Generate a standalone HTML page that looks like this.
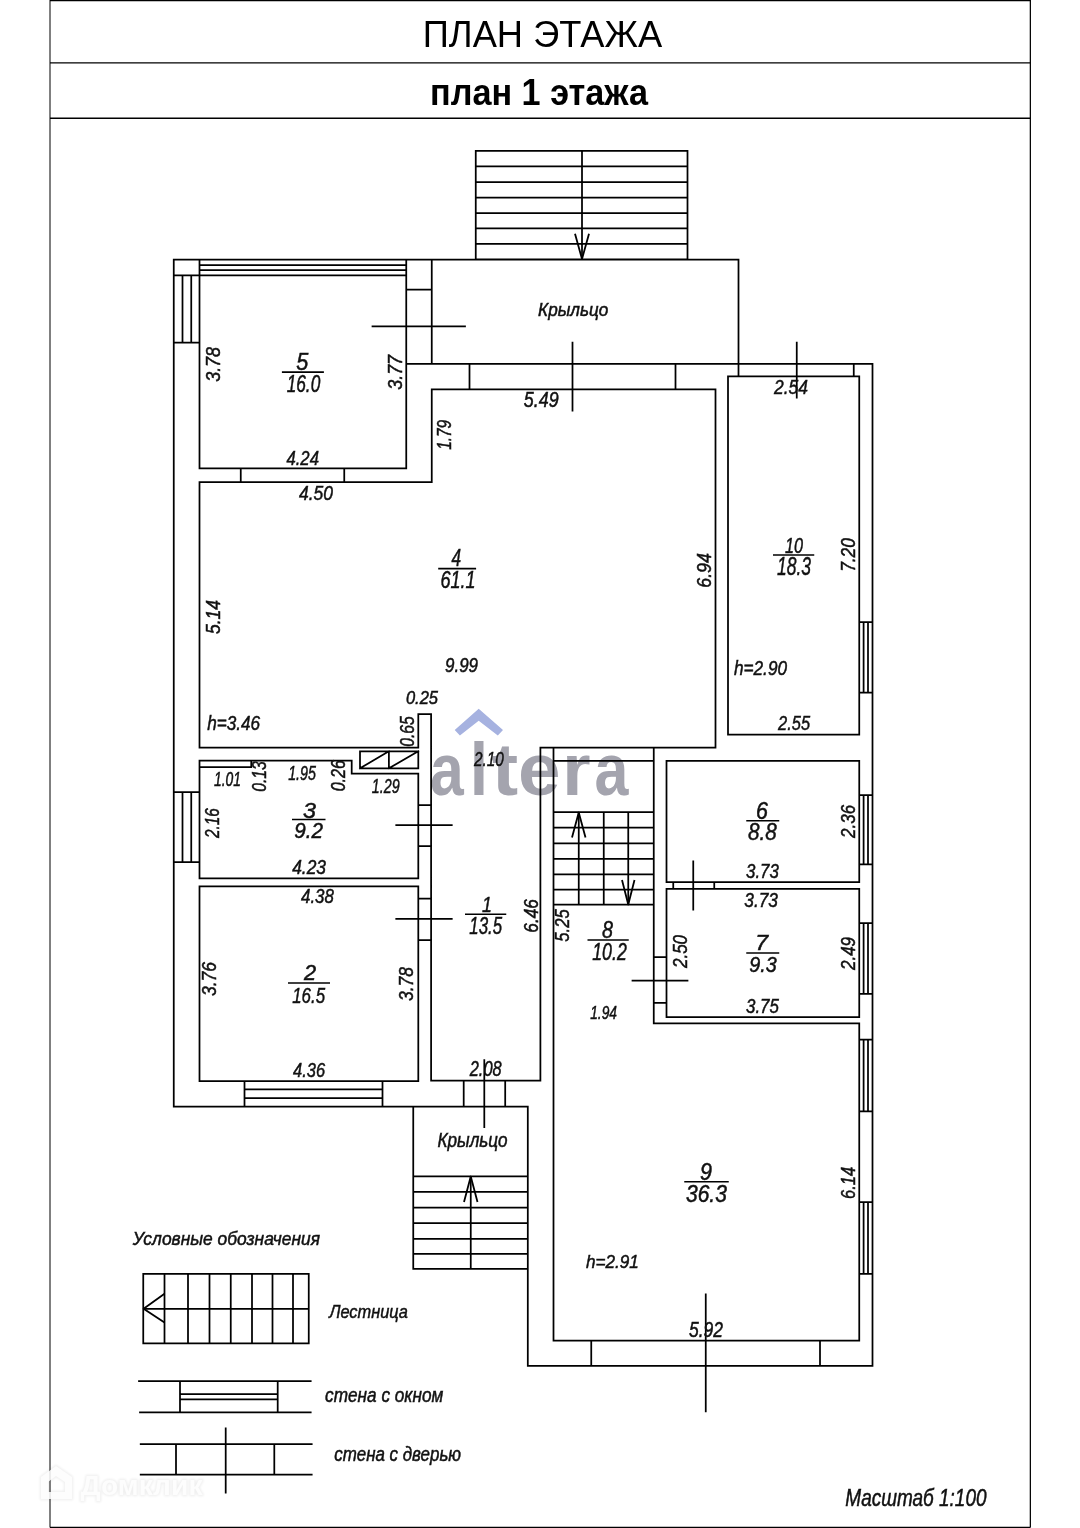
<!DOCTYPE html>
<html><head><meta charset="utf-8"><title>План этажа</title>
<style>html,body{margin:0;padding:0;background:#fff;width:1080px;height:1528px;overflow:hidden}
body{position:relative;font-family:"Liberation Sans",sans-serif}</style></head>
<body>
<svg width="1080" height="1528" viewBox="0 0 1080 1528" style="position:absolute;left:0;top:0;will-change:transform">
<text transform="translate(429.92 795.2) scale(0.819 1)" font-family="Liberation Sans" font-weight="bold" font-size="74" fill="#a4a4ae">a</text><text transform="translate(469.70 795.2) scale(0.895 1)" font-family="Liberation Sans" font-weight="bold" font-size="74" fill="#a4a4ae">l</text><text transform="translate(491.91 795.2) scale(1.061 1)" font-family="Liberation Sans" font-weight="bold" font-size="74" fill="#a4a4ae">t</text><text transform="translate(517.91 795.2) scale(1.034 1)" font-family="Liberation Sans" font-weight="bold" font-size="74" fill="#a4a4ae">e</text><text transform="translate(562.15 795.2) scale(0.982 1)" font-family="Liberation Sans" font-weight="bold" font-size="74" fill="#a4a4ae">r</text><text transform="translate(594.41 795.2) scale(0.824 1)" font-family="Liberation Sans" font-weight="bold" font-size="74" fill="#a4a4ae">a</text><polygon points="478.7,708.75 503,729.9 497.8,735.6 478.7,720.7 459.9,735.6 454.7,730.1" fill="#a6b2e0"/>
<path d="M475.75 150.75L687.5 150.75M687.5 150.75L687.5 259.25M687.5 259.25L475.75 259.25M475.75 259.25L475.75 150.75M475.75 166.25L687.5 166.25M475.75 182L687.5 182M475.75 197.5L687.5 197.5M475.75 213L687.5 213M475.75 228.25L687.5 228.25M475.75 243.75L687.5 243.75M582 150.75L582 259.25M173.75 259.5L173.75 1106.5M173.75 259.5L738.5 259.5M173.75 275.3L406.25 275.3M199.5 265L406.25 265M199.5 270L406.25 270M199.5 259.5L199.5 468.25M182.5 275.3L182.5 342.5M191.25 275.3L191.25 342.5M173.75 342.5L199.5 342.5M406.25 259.5L406.25 468.25M199.5 468.25L406.25 468.25M240.75 468.25L240.75 482M344.25 468.25L344.25 482M199.5 482L431.75 482M199.5 482L199.5 747.5M431.75 259.5L431.75 363.75M406.25 289.5L431.75 289.5M406.25 363.75L872.5 363.75M738.5 259.5L738.5 376.25M431.75 389.25L715.5 389.25M431.75 389.25L431.75 482M469.5 363.75L469.5 389.25M675.5 363.75L675.5 389.25M715.5 389.25L715.5 747.5M853.75 363.75L853.75 376.25M728 376.25L859.25 376.25M859.25 376.25L859.25 734.5M859.25 734.5L728 734.5M728 734.5L728 376.25M872.5 363.75L872.5 1365.75M199.5 747.5L418.3 747.5M418.3 714.1L418.3 747.5M418.3 714.1L431.1 714.1M431.1 714.1L431.1 1080.7M360 751.3L418.3 751.3M418.3 751.3L418.3 768.3M418.3 768.3L360 768.3M360 768.3L360 751.3M388.9 751.3L388.9 768.3M360 768.3L388.9 751.3M388.9 768.3L418.3 751.3M199.5 760.6L351.7 760.6M351.7 760.6L351.7 773.6M351.7 773.6L418.3 773.6M418.3 773.6L418.3 878.25M199.5 878.25L418.3 878.25M199.5 760.6L199.5 878.25M199.5 767L251.25 767M251.25 760.6L251.25 767M173.75 792L199.5 792M173.75 862L199.5 862M182.5 792L182.5 862M191.25 792L191.25 862M199.5 886.25L418.3 886.25M418.3 886.25L418.3 1081M418.3 1081L199.5 1081M199.5 1081L199.5 886.25M418.3 805L431.1 805M418.3 846L431.1 846M418.3 898.5L431.1 898.5M418.3 940L431.1 940M244.5 1081L244.5 1106.5M382.5 1081L382.5 1106.5M244.5 1089.25L382.5 1089.25M244.5 1098L382.5 1098M173.75 1106.5L527.8 1106.5M540.4 747.5L540.4 1080.7M431.1 1080.7L540.4 1080.7M463.7 1080.7L463.7 1106.5M505.2 1080.7L505.2 1106.5M540.4 747.5L715.5 747.5M553.5 747.5L553.5 1340.5M553.5 760.75L653.75 760.75M553.5 812L653.75 812M553.5 827.5L653.75 827.5M553.5 843.25L653.75 843.25M553.5 858.75L653.75 858.75M553.5 874.25L653.75 874.25M553.5 889.5L653.75 889.5M553.5 904.5L653.75 904.5M578.75 812L578.75 904.5M603.75 812L603.75 904.5M628.25 812L628.25 904.5M653.75 747.5L653.75 1023.25M666.5 760.75L859.25 760.75M859.25 760.75L859.25 882M859.25 882L666.5 882M666.5 882L666.5 760.75M666.5 888.75L859.25 888.75M859.25 888.75L859.25 1017.2M859.25 1017.2L666.5 1017.2M666.5 1017.2L666.5 888.75M673.25 882L673.25 888.75M714.25 882L714.25 888.75M653.75 957L666.5 957M653.75 1002.8L666.5 1002.8M653.75 1023.25L859.25 1023.25M859.25 1023.25L859.25 1340.5M553.5 1340.5L859.25 1340.5M527.8 1106.5L527.8 1365.75M527.8 1365.75L872.5 1365.75M591.25 1340.5L591.25 1365.75M820 1340.5L820 1365.75M859.25 622L872.5 622M859.25 692.5L872.5 692.5M863.6 622L863.6 692.5M868 622L868 692.5M859.25 795L872.5 795M859.25 864.25L872.5 864.25M863.6 795L863.6 864.25M868 795L868 864.25M859.25 923L872.5 923M859.25 993.75L872.5 993.75M863.6 923L863.6 993.75M868 923L868 993.75M859.25 1039.5L872.5 1039.5M859.25 1111.25L872.5 1111.25M863.6 1039.5L863.6 1111.25M868 1039.5L868 1111.25M859.25 1202L872.5 1202M859.25 1273.75L872.5 1273.75M863.6 1202L863.6 1273.75M868 1202L868 1273.75M413.25 1106.5L413.25 1268.75M413.25 1176.25L527.8 1176.25M413.25 1191.75L527.8 1191.75M413.25 1207.5L527.8 1207.5M413.25 1223L527.8 1223M413.25 1238.75L527.8 1238.75M413.25 1253.75L527.8 1253.75M413.25 1268.75L527.8 1268.75M470.75 1176.25L470.75 1268.75M372.5 326.25L465 326.25M572.5 342.5L572.5 410.5M796.75 342.5L796.75 397.5M396.25 825L451.75 825M396.25 918.75L451.75 918.75M693.25 861.25L693.25 909.5M632.5 980.5L687.5 980.5M484.3 1060L484.3 1127M705.75 1294.25L705.75 1411.25M143.25 1273.75L308.75 1273.75M308.75 1273.75L308.75 1343.25M308.75 1343.25L143.25 1343.25M143.25 1343.25L143.25 1273.75M143.25 1308.75L308.75 1308.75M164.5 1273.75L164.5 1343.25M188 1273.75L188 1343.25M209.5 1273.75L209.5 1343.25M230.75 1273.75L230.75 1343.25M252 1273.75L252 1343.25M272.5 1273.75L272.5 1343.25M293 1273.75L293 1343.25M139 1381.2L310.7 1381.2M140 1412.3L310.7 1412.3M180 1381.2L180 1412.3M277.7 1381.2L277.7 1412.3M180 1394L277.7 1394M180 1399.3L277.7 1399.3M140.7 1444L311.7 1444M140.7 1474.7L311.7 1474.7M176 1444L176 1474.7M274.3 1444L274.3 1474.7M225.7 1428.3L225.7 1492.5" stroke="#000" stroke-width="1.75" fill="none" stroke-linecap="square"/>
<path d="M50 0L50 1527.5" stroke="#000" stroke-width="1.0" fill="none"/>
<path d="M1030.35 0L1030.35 1527.5" stroke="#000" stroke-width="1.25" fill="none"/>
<path d="M50 0.5L1030.35 0.5" stroke="#000" stroke-width="1.3" fill="none"/>
<path d="M50 1527.5L1030.35 1527.5" stroke="#000" stroke-width="1.3" fill="none"/>
<path d="M50 62.8L1030.35 62.8" stroke="#000" stroke-width="1.35" fill="none"/>
<path d="M50 118.2L1030.35 118.2" stroke="#000" stroke-width="1.5" fill="none"/>
<path d="M281.9 372.2L323.9 372.2" stroke="#000" stroke-width="1.7" fill="none"/>
<path d="M438.2 568.6L476.1 568.6" stroke="#000" stroke-width="1.7" fill="none"/>
<path d="M773 555L814.25 555" stroke="#000" stroke-width="1.7" fill="none"/>
<path d="M292 819.5L325.5 819.5" stroke="#000" stroke-width="1.7" fill="none"/>
<path d="M288 983L330 983" stroke="#000" stroke-width="1.7" fill="none"/>
<path d="M465 914.25L506.25 914.25" stroke="#000" stroke-width="1.7" fill="none"/>
<path d="M587.5 940L628.75 940" stroke="#000" stroke-width="1.7" fill="none"/>
<path d="M746.25 820.75L779.25 820.75" stroke="#000" stroke-width="1.7" fill="none"/>
<path d="M746.25 953L779.25 953" stroke="#000" stroke-width="1.7" fill="none"/>
<path d="M684.25 1181.75L728.75 1181.75" stroke="#000" stroke-width="1.7" fill="none"/>
<polyline points="575,233.75 582,259 589,233.75" fill="none" stroke="#000" stroke-width="1.8" stroke-linejoin="round"/>
<polyline points="572,837.5 578.75,812.5 585.5,837.5" fill="none" stroke="#000" stroke-width="1.8" stroke-linejoin="round"/>
<polyline points="622,880 628.25,904.5 634.5,880" fill="none" stroke="#000" stroke-width="1.8" stroke-linejoin="round"/>
<polyline points="464,1202 470.75,1176.5 477.5,1202" fill="none" stroke="#000" stroke-width="1.8" stroke-linejoin="round"/>
<polyline points="164.5,1293.75 143.6,1308.75 164.5,1322.5" fill="none" stroke="#000" stroke-width="1.8" stroke-linejoin="round"/>
<defs><filter id="bl" x="-20%" y="-20%" width="140%" height="140%"><feGaussianBlur stdDeviation="1.2"/></filter></defs><g opacity="0.06" filter="url(#bl)" fill="#000" stroke="#000" stroke-width="2.5" stroke-linejoin="round"><text x="80.5" y="1495.3" font-family="Liberation Sans" font-weight="bold" font-size="27" textLength="122" lengthAdjust="spacingAndGlyphs">Домклик</text><path d="M41 1477 L56 1466 L72 1477 L72 1499 L41 1499 Z M48 1482 L56 1476 L65 1482 L65 1492 L48 1492 Z" fill-rule="evenodd"/></g><g fill="#fff" opacity="0.85"><text x="80.5" y="1495.3" font-family="Liberation Sans" font-weight="bold" font-size="27" textLength="122" lengthAdjust="spacingAndGlyphs">Домклик</text><path d="M41 1477 L56 1466 L72 1477 L72 1499 L41 1499 Z M48 1482 L56 1476 L65 1482 L65 1492 L48 1492 Z" fill-rule="evenodd"/></g>
<text x="296.37" y="369.56" font-size="23.35" textLength="12.05" lengthAdjust="spacingAndGlyphs" font-family="Liberation Sans" font-style="italic" fill="#111" stroke="#111" stroke-width="0.5">5</text>
<text x="286.63" y="391.56" font-size="23.68" textLength="33.63" lengthAdjust="spacingAndGlyphs" font-family="Liberation Sans" font-style="italic" fill="#111" stroke="#111" stroke-width="0.5">16.0</text>
<text x="286.43" y="465.12" font-size="21.10" textLength="32.52" lengthAdjust="spacingAndGlyphs" font-family="Liberation Sans" font-style="italic" fill="#111" stroke="#111" stroke-width="0.5">4.24</text>
<text x="298.95" y="500.22" font-size="20.95" textLength="34.05" lengthAdjust="spacingAndGlyphs" font-family="Liberation Sans" font-style="italic" fill="#111" stroke="#111" stroke-width="0.5">4.50</text>
<text x="523.84" y="406.66" font-size="21.21" textLength="34.79" lengthAdjust="spacingAndGlyphs" font-family="Liberation Sans" font-style="italic" fill="#111" stroke="#111" stroke-width="0.5">5.49</text>
<text x="451.58" y="566.00" font-size="23.13" textLength="9.58" lengthAdjust="spacingAndGlyphs" font-family="Liberation Sans" font-style="italic" fill="#111" stroke="#111" stroke-width="0.5">4</text>
<text x="440.47" y="588.34" font-size="24.14" textLength="35.22" lengthAdjust="spacingAndGlyphs" font-family="Liberation Sans" font-style="italic" fill="#111" stroke="#111" stroke-width="0.5">61.1</text>
<text x="445.05" y="672.22" font-size="19.55" textLength="33.00" lengthAdjust="spacingAndGlyphs" font-family="Liberation Sans" font-style="italic" fill="#111" stroke="#111" stroke-width="0.5">9.99</text>
<text x="405.89" y="704.44" font-size="18.67" textLength="32.16" lengthAdjust="spacingAndGlyphs" font-family="Liberation Sans" font-style="italic" fill="#111" stroke="#111" stroke-width="0.5">0.25</text>
<text x="773.95" y="394.00" font-size="20.95" textLength="34.00" lengthAdjust="spacingAndGlyphs" font-family="Liberation Sans" font-style="italic" fill="#111" stroke="#111" stroke-width="0.5">2.54</text>
<text x="785.00" y="553.00" font-size="22.61" textLength="18.00" lengthAdjust="spacingAndGlyphs" font-family="Liberation Sans" font-style="italic" fill="#111" stroke="#111" stroke-width="0.5">10</text>
<text x="777.00" y="575.10" font-size="26.50" textLength="34.05" lengthAdjust="spacingAndGlyphs" font-family="Liberation Sans" font-style="italic" fill="#111" stroke="#111" stroke-width="0.5">18.3</text>
<text x="733.95" y="675.22" font-size="20.07" textLength="53.10" lengthAdjust="spacingAndGlyphs" font-family="Liberation Sans" font-style="italic" fill="#111" stroke="#111" stroke-width="0.5">h=2.90</text>
<text x="778.11" y="730.22" font-size="20.95" textLength="31.94" lengthAdjust="spacingAndGlyphs" font-family="Liberation Sans" font-style="italic" fill="#111" stroke="#111" stroke-width="0.5">2.55</text>
<text x="207.21" y="730.22" font-size="20.07" textLength="52.84" lengthAdjust="spacingAndGlyphs" font-family="Liberation Sans" font-style="italic" fill="#111" stroke="#111" stroke-width="0.5">h=3.46</text>
<text x="213.95" y="786.00" font-size="19.55" textLength="27.00" lengthAdjust="spacingAndGlyphs" font-family="Liberation Sans" font-style="italic" fill="#111" stroke="#111" stroke-width="0.5">1.01</text>
<text x="288.16" y="780.12" font-size="19.55" textLength="27.73" lengthAdjust="spacingAndGlyphs" font-family="Liberation Sans" font-style="italic" fill="#111" stroke="#111" stroke-width="0.5">1.95</text>
<text x="371.79" y="792.56" font-size="19.56" textLength="27.79" lengthAdjust="spacingAndGlyphs" font-family="Liberation Sans" font-style="italic" fill="#111" stroke="#111" stroke-width="0.5">1.29</text>
<text x="303.00" y="818.00" font-size="22.61" textLength="13.00" lengthAdjust="spacingAndGlyphs" font-family="Liberation Sans" font-style="italic" fill="#111" stroke="#111" stroke-width="0.5">3</text>
<text x="294.26" y="838.10" font-size="22.81" textLength="28.74" lengthAdjust="spacingAndGlyphs" font-family="Liberation Sans" font-style="italic" fill="#111" stroke="#111" stroke-width="0.5">9.2</text>
<text x="292.16" y="874.22" font-size="19.55" textLength="33.84" lengthAdjust="spacingAndGlyphs" font-family="Liberation Sans" font-style="italic" fill="#111" stroke="#111" stroke-width="0.5">4.23</text>
<text x="301.00" y="903.00" font-size="19.56" textLength="32.89" lengthAdjust="spacingAndGlyphs" font-family="Liberation Sans" font-style="italic" fill="#111" stroke="#111" stroke-width="0.5">4.38</text>
<text x="303.90" y="980.10" font-size="22.61" textLength="12.10" lengthAdjust="spacingAndGlyphs" font-family="Liberation Sans" font-style="italic" fill="#111" stroke="#111" stroke-width="0.5">2</text>
<text x="292.21" y="1003.00" font-size="22.81" textLength="32.84" lengthAdjust="spacingAndGlyphs" font-family="Liberation Sans" font-style="italic" fill="#111" stroke="#111" stroke-width="0.5">16.5</text>
<text x="293.11" y="1077.22" font-size="19.55" textLength="31.94" lengthAdjust="spacingAndGlyphs" font-family="Liberation Sans" font-style="italic" fill="#111" stroke="#111" stroke-width="0.5">4.36</text>
<text x="473.95" y="766.22" font-size="21.10" textLength="29.89" lengthAdjust="spacingAndGlyphs" font-family="Liberation Sans" font-style="italic" fill="#111" stroke="#111" stroke-width="0.5">2.10</text>
<text x="482.00" y="912.00" font-size="22.14" textLength="9.90" lengthAdjust="spacingAndGlyphs" font-family="Liberation Sans" font-style="italic" fill="#111" stroke="#111" stroke-width="0.5">1</text>
<text x="469.26" y="934.22" font-size="23.98" textLength="32.84" lengthAdjust="spacingAndGlyphs" font-family="Liberation Sans" font-style="italic" fill="#111" stroke="#111" stroke-width="0.5">13.5</text>
<text x="602.00" y="938.00" font-size="23.98" textLength="11.00" lengthAdjust="spacingAndGlyphs" font-family="Liberation Sans" font-style="italic" fill="#111" stroke="#111" stroke-width="0.5">8</text>
<text x="592.21" y="960.00" font-size="23.68" textLength="34.58" lengthAdjust="spacingAndGlyphs" font-family="Liberation Sans" font-style="italic" fill="#111" stroke="#111" stroke-width="0.5">10.2</text>
<text x="590.16" y="1019.22" font-size="18.90" textLength="26.84" lengthAdjust="spacingAndGlyphs" font-family="Liberation Sans" font-style="italic" fill="#111" stroke="#111" stroke-width="0.5">1.94</text>
<text x="469.74" y="1076.44" font-size="21.62" textLength="31.89" lengthAdjust="spacingAndGlyphs" font-family="Liberation Sans" font-style="italic" fill="#111" stroke="#111" stroke-width="0.5">2.08</text>
<text x="756.10" y="819.22" font-size="23.98" textLength="11.90" lengthAdjust="spacingAndGlyphs" font-family="Liberation Sans" font-style="italic" fill="#111" stroke="#111" stroke-width="0.5">6</text>
<text x="748.05" y="840.10" font-size="23.98" textLength="28.74" lengthAdjust="spacingAndGlyphs" font-family="Liberation Sans" font-style="italic" fill="#111" stroke="#111" stroke-width="0.5">8.8</text>
<text x="746.00" y="878.00" font-size="20.58" textLength="32.84" lengthAdjust="spacingAndGlyphs" font-family="Liberation Sans" font-style="italic" fill="#111" stroke="#111" stroke-width="0.5">3.73</text>
<text x="744.26" y="907.10" font-size="20.58" textLength="33.74" lengthAdjust="spacingAndGlyphs" font-family="Liberation Sans" font-style="italic" fill="#111" stroke="#111" stroke-width="0.5">3.73</text>
<text x="755.20" y="950.10" font-size="21.93" textLength="12.90" lengthAdjust="spacingAndGlyphs" font-family="Liberation Sans" font-style="italic" fill="#111" stroke="#111" stroke-width="0.5">7</text>
<text x="749.26" y="972.22" font-size="22.81" textLength="27.53" lengthAdjust="spacingAndGlyphs" font-family="Liberation Sans" font-style="italic" fill="#111" stroke="#111" stroke-width="0.5">9.3</text>
<text x="746.00" y="1013.00" font-size="19.55" textLength="32.84" lengthAdjust="spacingAndGlyphs" font-family="Liberation Sans" font-style="italic" fill="#111" stroke="#111" stroke-width="0.5">3.75</text>
<text x="700.05" y="1180.12" font-size="23.98" textLength="11.95" lengthAdjust="spacingAndGlyphs" font-family="Liberation Sans" font-style="italic" fill="#111" stroke="#111" stroke-width="0.5">9</text>
<text x="686.00" y="1202.12" font-size="23.13" textLength="40.79" lengthAdjust="spacingAndGlyphs" font-family="Liberation Sans" font-style="italic" fill="#111" stroke="#111" stroke-width="0.5">36.3</text>
<text x="586.00" y="1268.10" font-size="18.96" textLength="52.90" lengthAdjust="spacingAndGlyphs" font-family="Liberation Sans" font-style="italic" fill="#111" stroke="#111" stroke-width="0.5">h=2.91</text>
<text x="689.00" y="1336.78" font-size="21.93" textLength="34.00" lengthAdjust="spacingAndGlyphs" font-family="Liberation Sans" font-style="italic" fill="#111" stroke="#111" stroke-width="0.5">5.92</text>
<text transform="translate(220.00 381.79) rotate(-90)" x="0" y="0" font-size="19.55" textLength="34.79" lengthAdjust="spacingAndGlyphs" font-family="Liberation Sans" font-style="italic" fill="#111" stroke="#111" stroke-width="0.5">3.78</text>
<text transform="translate(402.00 389.74) rotate(-90)" x="0" y="0" font-size="19.55" textLength="34.79" lengthAdjust="spacingAndGlyphs" font-family="Liberation Sans" font-style="italic" fill="#111" stroke="#111" stroke-width="0.5">3.77</text>
<text transform="translate(450.52 449.74) rotate(-90)" x="0" y="0" font-size="19.55" textLength="29.74" lengthAdjust="spacingAndGlyphs" font-family="Liberation Sans" font-style="italic" fill="#111" stroke="#111" stroke-width="0.5">1.79</text>
<text transform="translate(220.00 634.00) rotate(-90)" x="0" y="0" font-size="19.55" textLength="33.95" lengthAdjust="spacingAndGlyphs" font-family="Liberation Sans" font-style="italic" fill="#111" stroke="#111" stroke-width="0.5">5.14</text>
<text transform="translate(710.52 587.69) rotate(-90)" x="0" y="0" font-size="19.55" textLength="34.48" lengthAdjust="spacingAndGlyphs" font-family="Liberation Sans" font-style="italic" fill="#111" stroke="#111" stroke-width="0.5">6.94</text>
<text transform="translate(855.00 571.85) rotate(-90)" x="0" y="0" font-size="19.55" textLength="33.64" lengthAdjust="spacingAndGlyphs" font-family="Liberation Sans" font-style="italic" fill="#111" stroke="#111" stroke-width="0.5">7.20</text>
<text transform="translate(413.58 746.79) rotate(-90)" x="0" y="0" font-size="19.55" textLength="30.47" lengthAdjust="spacingAndGlyphs" font-family="Liberation Sans" font-style="italic" fill="#111" stroke="#111" stroke-width="0.5">0.65</text>
<text transform="translate(265.52 791.79) rotate(-90)" x="0" y="0" font-size="19.55" textLength="30.63" lengthAdjust="spacingAndGlyphs" font-family="Liberation Sans" font-style="italic" fill="#111" stroke="#111" stroke-width="0.5">0.13</text>
<text transform="translate(345.42 791.37) rotate(-90)" x="0" y="0" font-size="19.55" textLength="31.37" lengthAdjust="spacingAndGlyphs" font-family="Liberation Sans" font-style="italic" fill="#111" stroke="#111" stroke-width="0.5">0.26</text>
<text transform="translate(219.05 838.00) rotate(-90)" x="0" y="0" font-size="19.55" textLength="29.79" lengthAdjust="spacingAndGlyphs" font-family="Liberation Sans" font-style="italic" fill="#111" stroke="#111" stroke-width="0.5">2.16</text>
<text transform="translate(215.53 995.95) rotate(-90)" x="0" y="0" font-size="19.55" textLength="33.95" lengthAdjust="spacingAndGlyphs" font-family="Liberation Sans" font-style="italic" fill="#111" stroke="#111" stroke-width="0.5">3.76</text>
<text transform="translate(413.48 1000.95) rotate(-90)" x="0" y="0" font-size="19.55" textLength="33.95" lengthAdjust="spacingAndGlyphs" font-family="Liberation Sans" font-style="italic" fill="#111" stroke="#111" stroke-width="0.5">3.78</text>
<text transform="translate(537.52 932.69) rotate(-90)" x="0" y="0" font-size="19.55" textLength="33.58" lengthAdjust="spacingAndGlyphs" font-family="Liberation Sans" font-style="italic" fill="#111" stroke="#111" stroke-width="0.5">6.46</text>
<text transform="translate(568.52 941.79) rotate(-90)" x="0" y="0" font-size="19.55" textLength="32.68" lengthAdjust="spacingAndGlyphs" font-family="Liberation Sans" font-style="italic" fill="#111" stroke="#111" stroke-width="0.5">5.25</text>
<text transform="translate(855.00 837.89) rotate(-90)" x="0" y="0" font-size="19.55" textLength="32.94" lengthAdjust="spacingAndGlyphs" font-family="Liberation Sans" font-style="italic" fill="#111" stroke="#111" stroke-width="0.5">2.36</text>
<text transform="translate(687.00 968.00) rotate(-90)" x="0" y="0" font-size="19.55" textLength="33.05" lengthAdjust="spacingAndGlyphs" font-family="Liberation Sans" font-style="italic" fill="#111" stroke="#111" stroke-width="0.5">2.50</text>
<text transform="translate(855.00 970.00) rotate(-90)" x="0" y="0" font-size="19.55" textLength="33.05" lengthAdjust="spacingAndGlyphs" font-family="Liberation Sans" font-style="italic" fill="#111" stroke="#111" stroke-width="0.5">2.49</text>
<text transform="translate(855.48 1198.90) rotate(-90)" x="0" y="0" font-size="19.55" textLength="31.90" lengthAdjust="spacingAndGlyphs" font-family="Liberation Sans" font-style="italic" fill="#111" stroke="#111" stroke-width="0.5">6.14</text>
<text x="538.12" y="315.80" font-size="17.46" textLength="70.14" lengthAdjust="spacingAndGlyphs" font-family="Liberation Sans" font-style="italic" fill="#111" stroke="#111" stroke-width="0.5">Крыльцо</text>
<text x="437.50" y="1146.80" font-size="19.69" textLength="70.14" lengthAdjust="spacingAndGlyphs" font-family="Liberation Sans" font-style="italic" fill="#111" stroke="#111" stroke-width="0.5">Крыльцо</text>
<text x="132.64" y="1245.40" font-size="19.27" textLength="187.36" lengthAdjust="spacingAndGlyphs" font-family="Liberation Sans" font-style="italic" fill="#111" stroke="#111" stroke-width="0.5">Условные обозначения</text>
<text x="329.16" y="1318.10" font-size="19.27" textLength="78.84" lengthAdjust="spacingAndGlyphs" font-family="Liberation Sans" font-style="italic" fill="#111" stroke="#111" stroke-width="0.5">Лестница</text>
<text x="325.12" y="1402.20" font-size="19.55" textLength="118.12" lengthAdjust="spacingAndGlyphs" font-family="Liberation Sans" font-style="italic" fill="#111" stroke="#111" stroke-width="0.5">стена с окном</text>
<text x="334.24" y="1461.30" font-size="19.55" textLength="126.76" lengthAdjust="spacingAndGlyphs" font-family="Liberation Sans" font-style="italic" fill="#111" stroke="#111" stroke-width="0.5">стена с дверью</text>
<text x="845.24" y="1506.00" font-size="23.18" textLength="141.26" lengthAdjust="spacingAndGlyphs" font-family="Liberation Sans" font-style="italic" fill="#111" stroke="#111" stroke-width="0.5">Масштаб 1:100</text>
<text x="422.72" y="47.46" font-family="Liberation Sans" font-size="36.33" textLength="239.46" lengthAdjust="spacingAndGlyphs" fill="#000">ПЛАН ЭТАЖА</text>
<text x="430.04" y="104.94" font-family="Liberation Sans" font-weight="bold" font-size="37.33" textLength="218.04" lengthAdjust="spacingAndGlyphs" fill="#000">план 1 этажа</text>
</svg>
</body></html>
